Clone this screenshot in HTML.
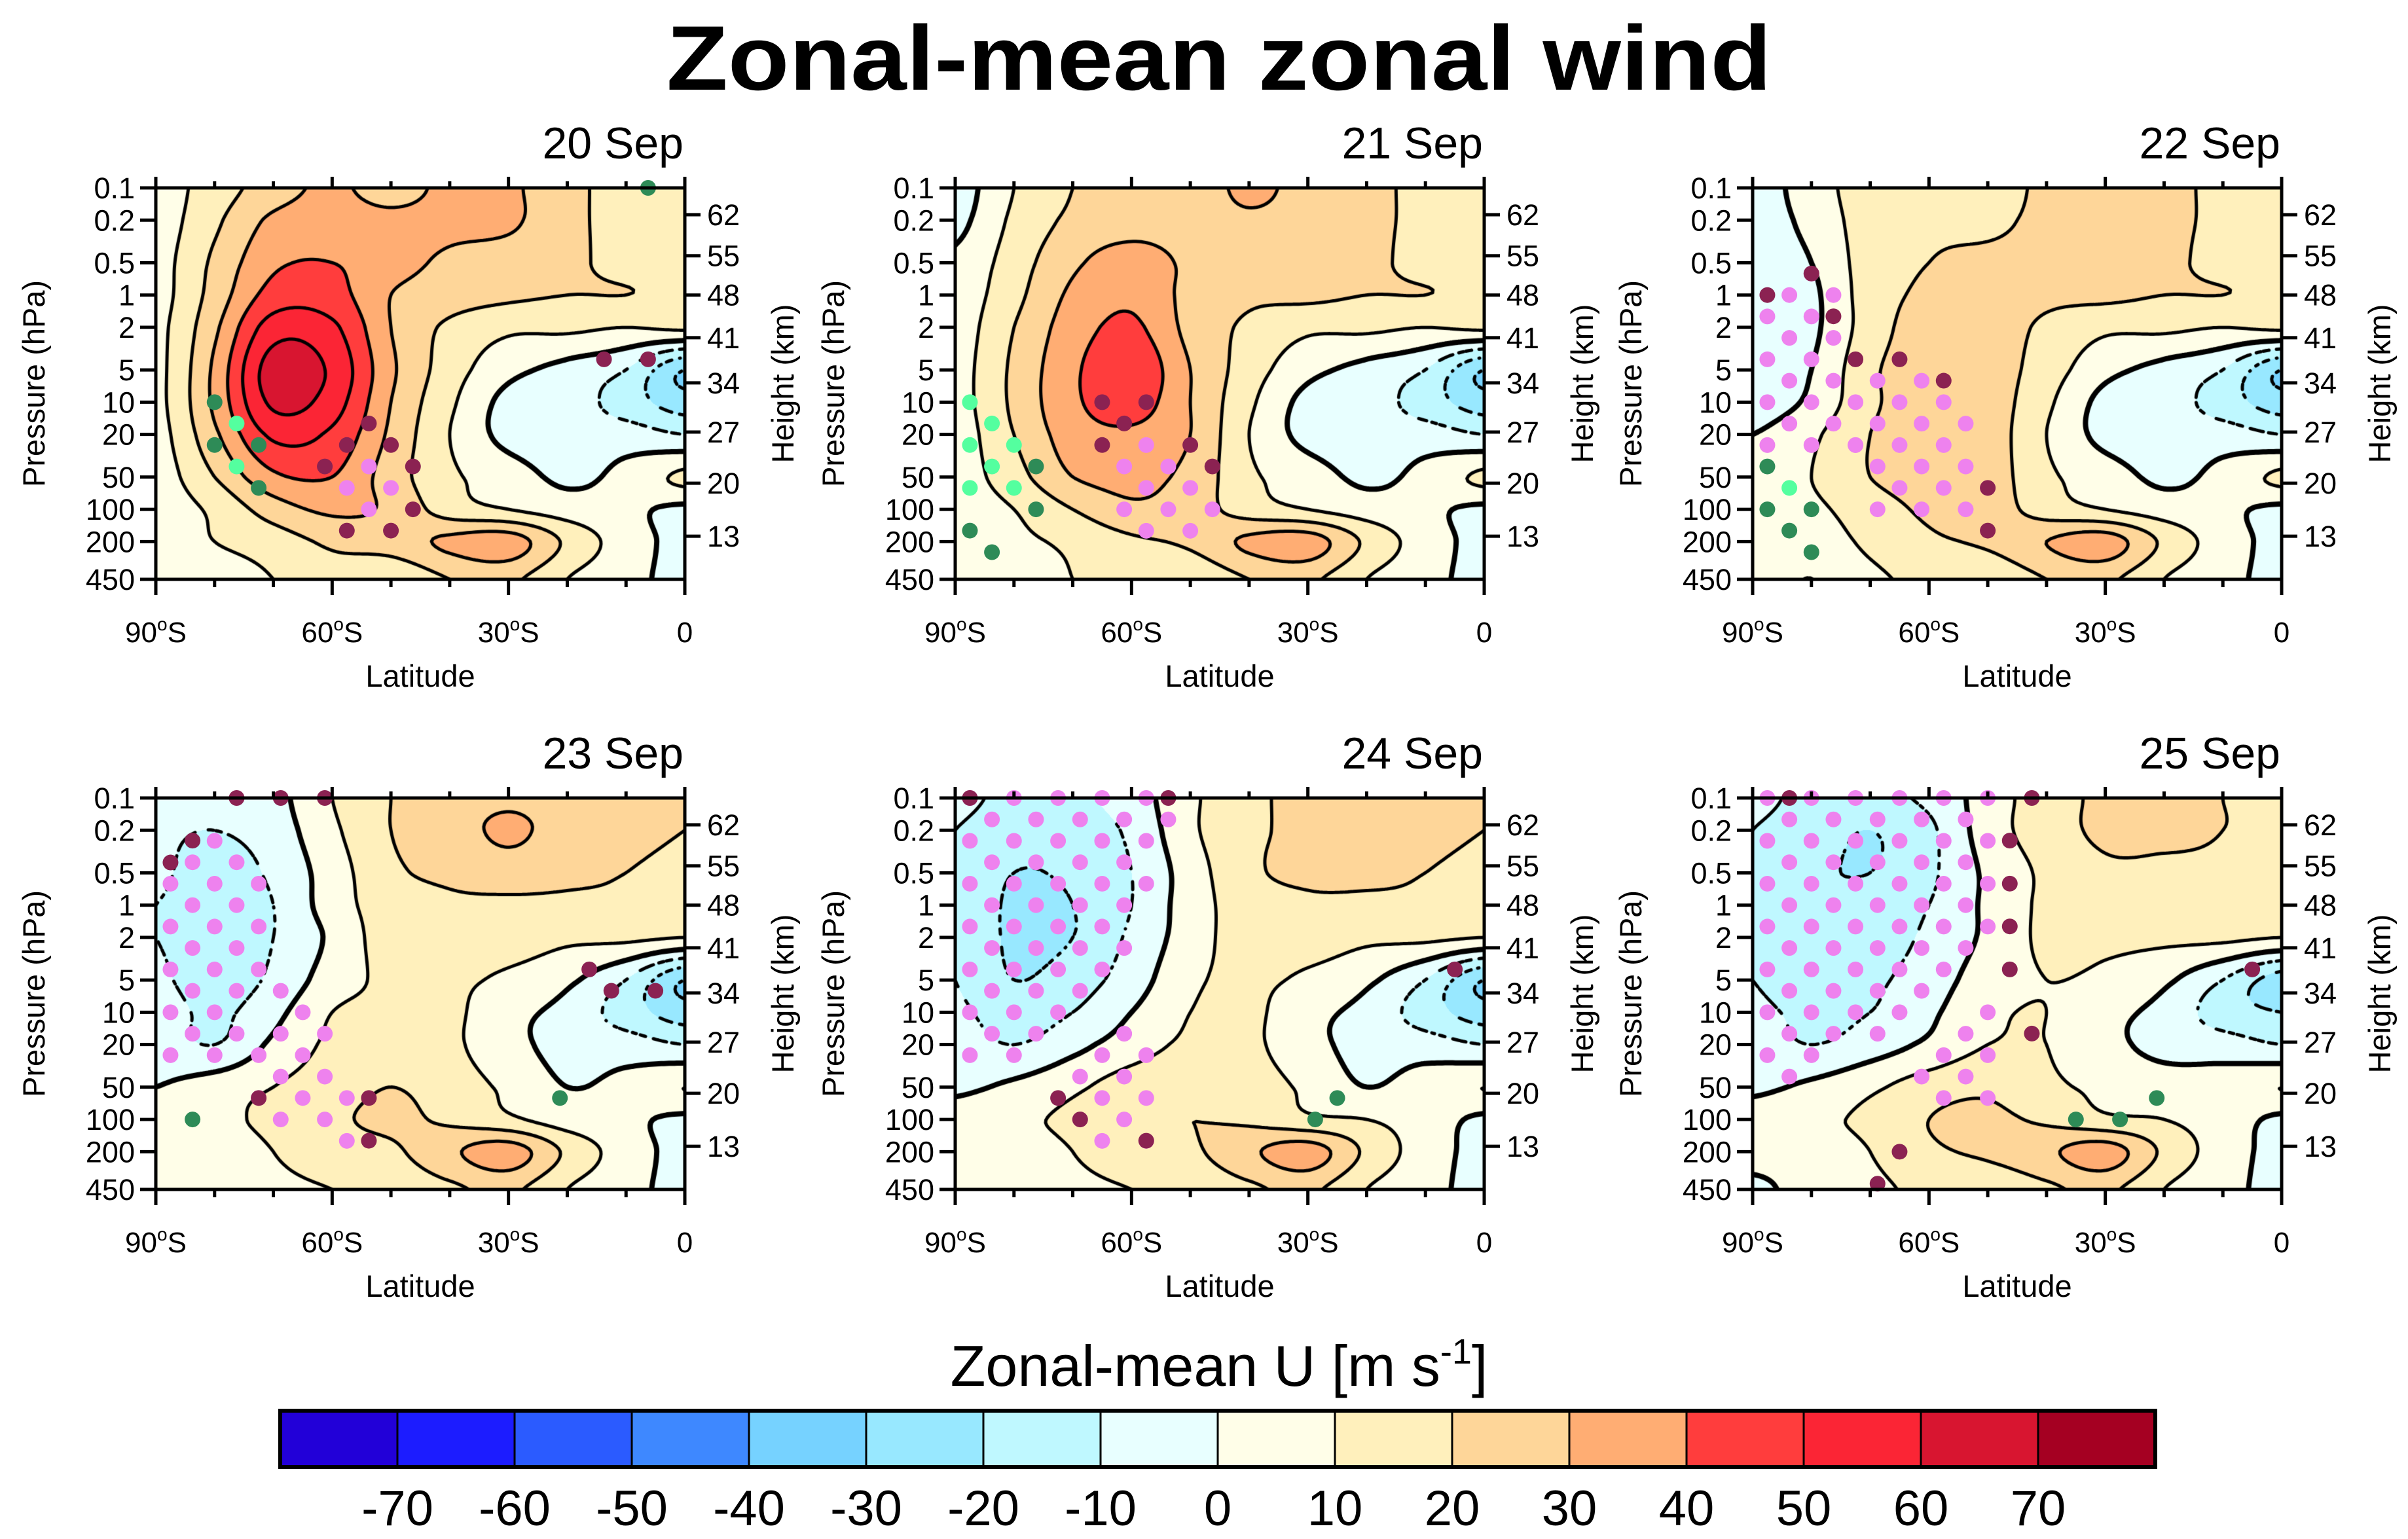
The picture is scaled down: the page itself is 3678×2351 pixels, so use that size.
<!DOCTYPE html>
<html><head><meta charset="utf-8"><title>Zonal-mean zonal wind</title>
<style>
html,body{margin:0;padding:0;background:#fff}
#root{position:relative;width:3678px;height:2351px;overflow:hidden;background:#fff}
canvas{position:absolute}
svg{position:absolute;left:0;top:0}
text{font-family:"Liberation Sans",Arial,sans-serif;fill:#000}
</style></head>
<body>
<div id="root">
<svg id="ov" width="3678" height="2351">
<text x="1862" y="137" text-anchor="middle" font-size="140" font-weight="bold" textLength="1688" lengthAdjust="spacingAndGlyphs">Zonal-mean zonal wind</text>
<text x="1862" y="2117" text-anchor="middle" font-size="88">Zonal-mean U [m s<tspan dy="-34" font-size="54">-1</tspan><tspan dy="34">]</tspan></text>
</svg>
</div>
<script>
const lats=[-90,-80,-70,-60,-50,-40,-30,-20,-10,0];
const levels=[0.1,0.2,0.5,1,2,5,10,20,50,100,200,450];
const titles=['20 Sep','21 Sep','22 Sep','23 Sep','24 Sep','25 Sep'];
const u20=[
[5,15,25,32,25,33,32,22,18,15],
[5,18,32,35,33,33,32,22,18,15],
[6,22,38,40,34,28,25,22,17,15],
[6,24,44,44,30,25,22,20,20,18],
[7,28,55,52,30,18,12,12,10,12],
[7,32,65,58,32,15,3,-3,-10,-30],
[7,32,62,55,30,12,-3,-5,-15,-25],
[6,28,52,48,28,10,-3,-5,-5,-10],
[5,20,38,40,25,12,5,-2,3,12],
[5,12,25,32,28,15,10,5,2,-2],
[5,10,15,22,25,32,35,18,5,-3],
[5,5,10,15,12,20,22,10,3,-3]];
const u21=[
[-5,10,20,22,22,33,25,22,18,15],
[-3,12,22,25,25,28,25,22,18,15],
[2,15,28,35,28,25,22,22,17,15],
[4,17,32,38,27,22,22,20,20,18],
[5,20,35,42,27,18,12,12,10,12],
[6,22,38,48,30,15,3,-3,-10,-30],
[6,22,38,45,30,12,-3,-5,-15,-25],
[5,20,35,38,30,10,-3,-5,-5,-10],
[5,16,30,33,27,12,5,-2,3,12],
[5,10,20,28,25,15,10,5,2,-2],
[5,8,12,18,22,32,35,18,5,-3],
[5,5,10,12,12,20,22,10,3,-3]];
const u22=[
[-5,5,15,15,15,22,22,22,18,15],
[-5,3,15,18,18,22,22,22,18,15],
[-5,0,15,20,22,22,22,22,17,15],
[-5,-2,15,22,25,22,22,20,20,18],
[-5,-2,15,25,25,18,12,12,10,12],
[-5,0,18,25,25,15,3,-3,-10,-30],
[-5,2,18,25,25,12,-3,-5,-15,-25],
[0,8,20,25,25,10,-3,-5,-5,-10],
[5,10,20,25,25,12,5,-2,3,12],
[5,8,15,22,25,15,10,5,2,-2],
[5,5,12,18,22,30,35,18,5,-3],
[5,0,8,12,12,20,22,10,3,-3]];
const u23=[
[-5,-5,-3,10,20,25,28,25,22,20],
[-8,-10,-5,8,20,25,32,25,22,20],
[-8,-15,-8,5,18,22,25,22,20,18],
[-10,-15,-10,5,15,18,18,18,18,15],
[-10,-15,-10,2,15,15,15,12,12,10],
[-8,-15,-8,5,12,12,8,2,-10,-30],
[-5,-12,-3,10,12,12,3,-3,-15,-25],
[-5,-10,2,12,15,12,3,-3,-5,-10],
[0,5,10,15,20,15,8,0,3,10],
[5,8,12,18,22,18,12,5,2,-2],
[5,5,10,15,18,28,35,18,5,-3],
[5,5,8,10,12,18,22,10,3,-3]];
const u24=[
[-8,-12,-12,-5,8,18,22,25,22,20],
[-10,-15,-15,-8,8,18,22,25,22,20],
[-10,-20,-18,-10,5,18,22,22,20,18],
[-10,-22,-20,-10,5,15,18,18,18,15],
[-10,-22,-20,-8,5,15,15,12,12,10],
[-10,-20,-15,-5,8,12,8,2,-10,-30],
[-8,-15,-10,0,10,12,3,-3,-15,-25],
[-5,-10,-3,5,12,12,3,-3,-5,-10],
[-2,2,8,15,18,15,8,0,5,10],
[5,8,12,18,20,18,12,10,5,-2],
[5,5,10,15,18,28,35,18,5,-3],
[5,5,8,10,12,18,22,10,3,-3]];
const u25=[
[-8,-12,-12,-8,5,15,22,22,20,18],
[-10,-15,-20,-12,5,15,22,22,20,18],
[-10,-18,-20,-12,2,12,18,18,18,15],
[-10,-18,-15,-10,2,12,15,15,15,15],
[-10,-15,-15,-8,2,12,12,12,12,10],
[-10,-15,-12,-5,5,10,8,2,-10,-25],
[-8,-12,-10,-2,8,10,3,-3,-15,-20],
[-5,-10,-5,2,10,10,3,-3,-5,-10],
[-2,2,8,15,18,12,8,5,5,10],
[5,8,12,20,22,18,12,10,5,-2],
[5,5,10,18,22,28,35,18,5,-3],
[-3,5,8,12,12,18,22,10,3,-3]];
const dots20=[[-80,10,'g'],[-80,25.1,'g'],[-72.5,25.1,'g'],[-72.5,63.1,'g'],[-6.25,0.1,'g'],[-76.25,15.8,'l'],[-76.25,39.8,'l'],[-53.75,15.8,'m'],[-57.5,25.1,'m'],[-50,25.1,'m'],[-61.25,39.8,'m'],[-46.25,39.8,'m'],[-46.25,100,'m'],[-57.5,158,'m'],[-50,158,'m'],[-13.75,3.98,'m'],[-6.25,3.98,'m'],[-53.75,39.8,'p'],[-57.5,63.1,'p'],[-50,63.1,'p'],[-53.75,100,'p']];
const dots21=[[-87.5,10,'l'],[-83.75,15.8,'l'],[-87.5,25.1,'l'],[-80,25.1,'l'],[-83.75,39.8,'l'],[-87.5,63.1,'l'],[-80,63.1,'l'],[-76.25,39.8,'g'],[-76.25,100,'g'],[-87.5,158,'g'],[-83.75,251,'g'],[-65,10,'m'],[-57.5,10,'m'],[-61.25,15.8,'m'],[-65,25.1,'m'],[-50,25.1,'m'],[-46.25,39.8,'m']];
const dots22=[[-87.5,1,'m'],[-80,0.63,'m'],[-76.25,1.58,'m'],[-72.5,3.98,'m'],[-65,3.98,'m'],[-57.5,6.3,'m'],[-50,63.1,'m'],[-50,158,'m'],[-83.75,63.1,'l'],[-87.5,39.8,'g'],[-87.5,100,'g'],[-80,100,'g'],[-83.75,158,'g'],[-80,251,'g']];
const dots23=[[-76.25,0.1,'m'],[-68.75,0.1,'m'],[-61.25,0.1,'m'],[-87.5,0.4,'m'],[-83.75,0.25,'m'],[-72.5,63.1,'m'],[-53.75,63.1,'m'],[-53.75,158,'m'],[-16.25,3.98,'m'],[-12.5,6.3,'m'],[-5,6.3,'m'],[-83.75,100,'g'],[-21.25,63.1,'g']];
const dots24=[[-87.5,0.1,'m'],[-53.75,0.1,'m'],[-72.5,63.1,'m'],[-68.75,100,'m'],[-57.5,158,'m'],[-5,3.98,'m'],[-25,63.1,'g'],[-28.75,100,'g']];
const dots25=[[-83.75,0.1,'m'],[-42.5,0.1,'m'],[-46.25,0.25,'m'],[-46.25,0.63,'m'],[-46.25,1.58,'m'],[-46.25,3.98,'m'],[-42.5,15.8,'m'],[-65,200,'m'],[-68.75,398,'m'],[-5,3.98,'m'],[-35,100,'g'],[-27.5,100,'g'],[-21.25,63.1,'g']];
const regions20=[];
const regions21=[['p',[[-63,20],[-52,20],[-46,50],[-46,170],[-64,170],[-64,40]]]];
const regions22=[['p',[[-88,0.8],[-82,0.4],[-76,1],[-73,2.5],[-72,30],[-88,30]]],['p',[[-72,4],[-62,4],[-55,10],[-48,40],[-48,120],[-70,120],[-73,30]]]];
const regions23=[['p',[[-88,0.3],[-80,0.16],[-72,0.3],[-70,1],[-72,5],[-78,30],[-88,30]]],['p',[[-68,4],[-62,5],[-58,30],[-55,80],[-55,170],[-72,110],[-75,50]]]];
const regions24=[['p',[[-88,0.1],[-52,0.1],[-58,1.5],[-68,8],[-78,30],[-88,40]]],['p',[[-63,10],[-57,20],[-55,150],[-65,200],[-73,90]]]];
const regions25=[['p',[[-88,0.1],[-47,0.1],[-47,3],[-60,10],[-75,30],[-88,50]]],['p',[[-60,15],[-50,8],[-45,25],[-52,100],[-65,90]]]];
const fields=[u20,u21,u22,u23,u24,u25];
const dotSets=[dots20,dots21,dots22,dots23,dots24,dots25];
const regionSets=[regions20,regions21,regions22,regions23,regions24,regions25];
const cbColors=['#2200d8','#1c1cff','#2b5bff','#3e88ff','#76d2ff','#98e8ff','#bff8ff','#e8ffff','#fffee8','#fff0bc','#fed699','#ffad73','#ff3d3d','#fb2535','#d81530','#a50022'];
const cbLabels=['-70','-60','-50','-40','-30','-20','-10','0','10','20','30','40','50','60','70'];
const pTicks=['0.1','0.2','0.5','1','2','5','10','20','50','100','200','450'];
const hTickLabels=['62','55','48','41','34','27','20','13'];
const hTickP=[0.178,0.43,1,2.5,6.6,19,57,178];
const latMajor=[-90,-60,-30,0];
const latMajorLabels=['90','60','30','0'];
const latMinor=[-80,-70,-50,-40,-20,-10];
const dotColors={m:'#8b2252',p:'#ee82ee',g:'#2e8b57',l:'#54ff9f'};

const NS='http://www.w3.org/2000/svg';
const ov=document.getElementById('ov');
const root=document.getElementById('root');
const colX=[238,1459,2677], rowY=[287,1219], W=808, H=598;
const LTOT=Math.log10(450)+1;
const LL=levels.map(p=>Math.log10(p));
function mk(tag,attrs,parent){const e=document.createElementNS(NS,tag);for(const k in attrs)e.setAttribute(k,attrs[k]);(parent||ov).appendChild(e);return e;}
function cr(p0,p1,p2,p3,t){return p1+0.5*t*(p2-p0+t*(2*p0-5*p1+4*p2-p3+t*(3*(p1-p2)+p3-p0)));}
function fjOf(lp){if(lp<=LL[0])return 0;for(let k=0;k<LL.length-1;k++){if(lp<=LL[k+1])return k+(lp-LL[k])/(LL[k+1]-LL[k]);}return LL.length-1;}
function val(u,fi,fj){
  let i=Math.min(Math.floor(fi),8),t=fi-i;let j=Math.min(Math.floor(fj),10),s=fj-j;
  const r=[];
  for(let d=-1;d<=2;d++){const row=u[Math.max(0,Math.min(11,j+d))];
    const c=k=>row[Math.max(0,Math.min(9,k))];
    r.push(cr(c(i-1),c(i),c(i+1),c(i+2),t));}
  return cr(r[0],r[1],r[2],r[3],s);
}
function hex(h){return [parseInt(h.substr(1,2),16),parseInt(h.substr(3,2),16),parseInt(h.substr(5,2),16)];}
const rgb=cbColors.map(hex);
function inPoly(x,y,poly){let ins=false;for(let a=0,b=poly.length-1;a<poly.length;b=a++){const xa=poly[a][0],ya=Math.log10(poly[a][1]),xb=poly[b][0],yb=Math.log10(poly[b][1]);if(((ya>y)!=(yb>y))&&(x<(xb-xa)*(y-ya)/(yb-ya)+xa))ins=!ins;}return ins;}

for(let k=0;k<6;k++){
  const px=colX[k%3], py=rowY[Math.floor(k/3)], u=fields[k];
  const xOf=lat=>px+(lat+90)/90*W;
  const yOf=p=>py+(Math.log10(p)+1)/LTOT*H;
  const cv=document.createElement('canvas');
  cv.width=W;cv.height=H;cv.style.left=px+'px';cv.style.top=py+'px';
  
  
  root.insertBefore(cv,ov);
  const ctx=cv.getContext('2d');
  const img=ctx.createImageData(W,H);
  const fis=[];for(let x=0;x<W;x++){fis.push(((-90+(x+0.5)/W*90)+90)/10);}
  for(let y=0;y<H;y++){const fj=fjOf(-1+(y+0.5)/H*LTOT);
    for(let x=0;x<W;x++){const v=val(u,fis[x],fj);let c=Math.floor((v+80)/10);c=Math.max(0,Math.min(15,c));
      const o=(y*W+x)*4;img.data[o]=rgb[c][0];img.data[o+1]=rgb[c][1];img.data[o+2]=rgb[c][2];img.data[o+3]=255;}}
  ctx.putImageData(img,0,0);
  const s=4,nx=Math.ceil(W/s)+1,ny=Math.ceil(H/s)+1,G=[];
  for(let iy=0;iy<ny;iy++){const yy=Math.min(iy*s,H);const fj=fjOf(-1+yy/H*LTOT);const row=[];
    for(let ix=0;ix<nx;ix++){const xx=Math.min(ix*s,W);row.push(val(u,xx/W*9,fj));}G.push(row);}
  ctx.strokeStyle='#000';ctx.lineCap='round';
  for(let lv=-70;lv<=70;lv+=10){
    ctx.lineWidth=lv===0?8:5;ctx.beginPath();
    for(let iy=0;iy<ny-1;iy++)for(let ix=0;ix<nx-1;ix++){
      const x0=Math.min(ix*s,W),x1=Math.min((ix+1)*s,W),y0=Math.min(iy*s,H),y1=Math.min((iy+1)*s,H);
      const a=G[iy][ix],b=G[iy][ix+1],c=G[iy+1][ix+1],d=G[iy+1][ix];
      const pts=[];
      if((a>lv)!=(b>lv))pts.push([x0+(lv-a)/(b-a)*(x1-x0),y0]);
      if((b>lv)!=(c>lv))pts.push([x1,y0+(lv-b)/(c-b)*(y1-y0)]);
      if((c>lv)!=(d>lv))pts.push([x0+(lv-d)/(c-d)*(x1-x0),y1]);
      if((d>lv)!=(a>lv))pts.push([x0,y0+(lv-a)/(d-a)*(y1-y0)]);
      for(let q=0;q+1<pts.length;q+=2){
        const mx=(pts[q][0]+pts[q+1][0])/2,my=(pts[q][1]+pts[q+1][1])/2;
        if(lv<0&&((Math.floor(mx/10)+Math.floor(my/10))%2===1))continue;
        ctx.moveTo(pts[q][0],pts[q][1]);ctx.lineTo(pts[q+1][0],pts[q+1][1]);}
    }
    ctx.stroke();
  }
  const g=mk('g',{});
  
  
  const dg=mk('g',{},g);
  
  
  for(const reg of regionSets[k]){
    for(let i=1;i<=24;i++)for(let j=0;j<=18;j++){
      if((i+j)%2!==1)continue;const lat=-91.25+3.75*i,lp=-1+0.2*j;
      if(inPoly(lat,lp,reg[1])){const c=mk('circle',{cx:xOf(lat),cy:yOf(Math.pow(10,lp)),r:12,fill:dotColors[reg[0]]},dg);
        
        }
    }
  }
  for(const d of dotSets[k]){const c=mk('circle',{cx:xOf(d[0]),cy:yOf(d[1]),r:12,fill:dotColors[d[2]]},dg);
    
    }
  const fr=mk('rect',{x:px,y:py,width:W,height:H,fill:'none',stroke:'#000','stroke-width':5},g);
  
  
  const tk=mk('g',{stroke:'#000','stroke-width':5},g);
  
  
  pTicks.forEach(t=>{const y=yOf(parseFloat(t));mk('line',{x1:px-24,y1:y,x2:px,y2:y},tk);
    const tx=mk('text',{x:px-32,y:y+16,'text-anchor':'end','font-size':45},g);tx.textContent=t;
    
    });
  hTickP.forEach((p,n)=>{const y=yOf(p);mk('line',{x1:px+W,y1:y,x2:px+W+24,y2:y},tk);
    const tx=mk('text',{x:px+W+34,y:y+16,'font-size':45},g);tx.textContent=hTickLabels[n];
    
    });
  latMajor.forEach((l,n)=>{const x=xOf(l);mk('line',{x1:x,y1:py+H,x2:x,y2:py+H+24},tk);mk('line',{x1:x,y1:py-17,x2:x,y2:py},tk);
    const tx=mk('text',{x:x,y:py+H+96,'text-anchor':'middle','font-size':44},g);
    if(l===0){tx.textContent='0';}else{tx.innerHTML=latMajorLabels[n]+'<tspan dy="-18" font-size="28">o</tspan><tspan dy="18">S</tspan>';}
    
    });
  latMinor.forEach(l=>{const x=xOf(l);mk('line',{x1:x,y1:py+H,x2:x,y2:py+H+12},tk);mk('line',{x1:x,y1:py-10,x2:x,y2:py},tk);});
  const xt=mk('text',{x:px+W/2,y:py+H+164,'text-anchor':'middle','font-size':47},g);xt.textContent='Latitude';
  
  
  const yt=mk('text',{x:0,y:0,'text-anchor':'middle','font-size':47,transform:`translate(${px-170},${py+H/2}) rotate(-90)`},g);yt.textContent='Pressure (hPa)';
  
  
  const ht=mk('text',{x:0,y:0,'text-anchor':'middle','font-size':47,transform:`translate(${px+W+166},${py+H/2}) rotate(-90)`},g);ht.textContent='Height (km)';
  
  
  const pt=mk('text',{x:px+W-2,y:py-45,'text-anchor':'end','font-size':68},g);pt.textContent=titles[k];
  
  
}
const cb=mk('g',{});


const cbX=428,cbY=2155,cbW=179,cbH=86;
cbColors.forEach((c,n)=>{const r=mk('rect',{x:cbX+n*cbW,y:cbY,width:cbW,height:cbH,fill:c,stroke:'#000','stroke-width':3},cb);
  
  });
const cf=mk('rect',{x:cbX,y:cbY,width:cbW*16,height:cbH,fill:'none',stroke:'#000','stroke-width':6},cb);


cbLabels.forEach((t,n)=>{const tx=mk('text',{x:cbX+(n+1)*cbW,y:2330,'text-anchor':'middle','font-size':76},cb);tx.textContent=t;
  
  });
</script>
</body></html>
